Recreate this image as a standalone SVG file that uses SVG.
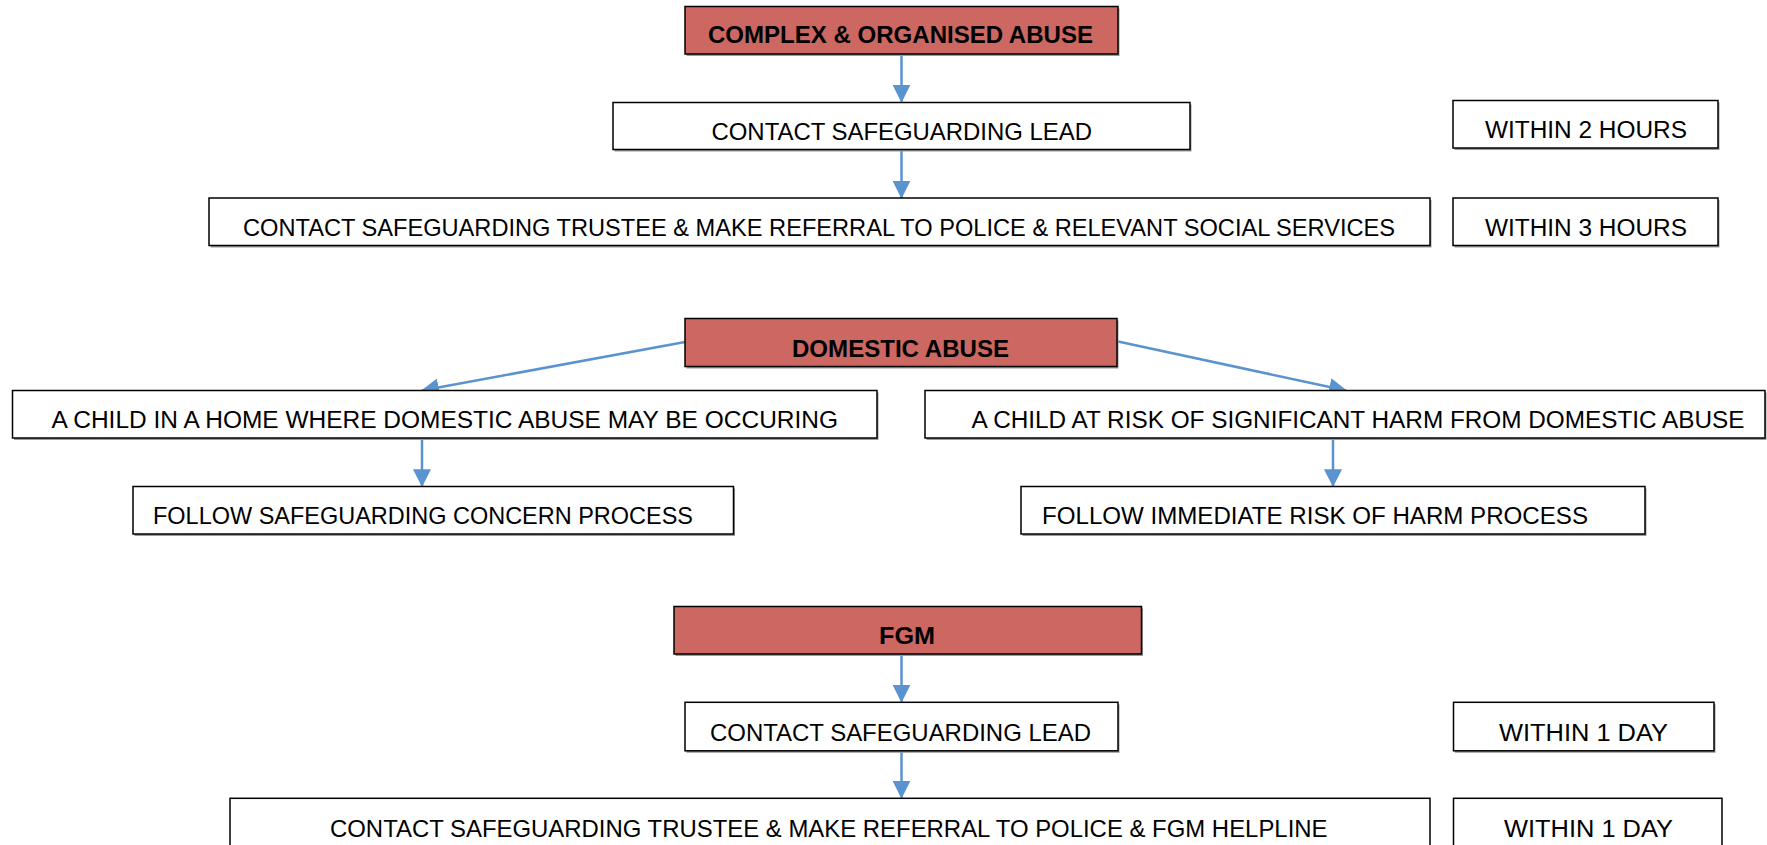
<svg xmlns="http://www.w3.org/2000/svg" width="1767" height="845" viewBox="0 0 1767 845">
<style>
.box{fill:#ffffff;stroke:#000000;stroke-width:1.5}
.hdr{fill:#CD6761;stroke:#000000;stroke-width:1.5}
.sh{fill:#9a9a9a}
.t{font-family:"Liberation Sans",Arial,sans-serif;font-size:24.5px;fill:#000000}
.b{font-family:"Liberation Sans",Arial,sans-serif;font-size:23px;font-weight:bold;fill:#000000}
.c{fill:none;stroke:#5B93CF;stroke-width:2.5}
</style>
<defs>
<marker id="ah" markerUnits="userSpaceOnUse" markerWidth="18" markerHeight="18" viewBox="0 0 16 16" refX="15" refY="8" orient="auto">
<path d="M0,0 L16,8 L0,16 Z" fill="#5B93CF"/>
</marker>
</defs>
<rect width="1767" height="845" fill="#ffffff"/>
<g id="connectors">
<line class="c" x1="901.5" y1="54" x2="901.5" y2="101.5" marker-end="url(#ah)"/>
<line class="c" x1="901.5" y1="150" x2="901.5" y2="197.5" marker-end="url(#ah)"/>
<line class="c" x1="685" y1="342" x2="422" y2="390.5" marker-end="url(#ah)"/>
<line class="c" x1="1118" y1="341.5" x2="1346" y2="390.5" marker-end="url(#ah)"/>
<line class="c" x1="422" y1="438.5" x2="422" y2="486" marker-end="url(#ah)"/>
<line class="c" x1="1333" y1="438.5" x2="1333" y2="486" marker-end="url(#ah)"/>
<line class="c" x1="901.5" y1="654" x2="901.5" y2="701.5" marker-end="url(#ah)"/>
<line class="c" x1="901.5" y1="751" x2="901.5" y2="797.5" marker-end="url(#ah)"/>
</g>
<g id="n-complex">
<rect class="sh" x="686.5" y="8.5" width="433" height="47.5"/>
<rect class="hdr" x="685" y="6.5" width="433" height="47.5"/>
<text class="b" x="708" y="43.3" textLength="385" lengthAdjust="spacingAndGlyphs">COMPLEX &amp; ORGANISED ABUSE</text>
</g>
<g id="n-lead1">
<rect class="sh" x="614.5" y="104.5" width="577" height="47"/>
<rect class="box" x="613" y="102.5" width="577" height="47"/>
<text class="t" x="711.5" y="140" textLength="380.5" lengthAdjust="spacingAndGlyphs">CONTACT SAFEGUARDING LEAD</text>
</g>
<g id="n-within2h">
<rect class="sh" x="1454.5" y="102.5" width="265" height="47.5"/>
<rect class="box" x="1453" y="100.5" width="265" height="47.5"/>
<text class="t" x="1485" y="138" textLength="202" lengthAdjust="spacingAndGlyphs">WITHIN 2 HOURS</text>
</g>
<g id="n-trustee1">
<rect class="sh" x="210.5" y="200" width="1221" height="47.5"/>
<rect class="box" x="209" y="198" width="1221" height="47.5"/>
<text class="t" x="243" y="235.5" textLength="1152" lengthAdjust="spacingAndGlyphs">CONTACT SAFEGUARDING TRUSTEE &amp; MAKE REFERRAL TO POLICE &amp; RELEVANT SOCIAL SERVICES</text>
</g>
<g id="n-within3h">
<rect class="sh" x="1454.5" y="200" width="265" height="47.5"/>
<rect class="box" x="1453" y="198" width="265" height="47.5"/>
<text class="t" x="1485" y="235.5" textLength="202" lengthAdjust="spacingAndGlyphs">WITHIN 3 HOURS</text>
</g>
<g id="n-domestic">
<rect class="sh" x="686.5" y="320.5" width="432" height="48"/>
<rect class="hdr" x="685" y="318.5" width="432" height="48"/>
<text class="b" x="792" y="356.7" textLength="217" lengthAdjust="spacingAndGlyphs">DOMESTIC ABUSE</text>
</g>
<g id="n-home">
<rect class="sh" x="14" y="392.5" width="864.5" height="47.5"/>
<rect class="box" x="12.5" y="390.5" width="864.5" height="47.5"/>
<text class="t" x="51.5" y="428.3" textLength="786.5" lengthAdjust="spacingAndGlyphs">A CHILD IN A HOME WHERE DOMESTIC ABUSE MAY BE OCCURING</text>
</g>
<g id="n-risk">
<rect class="sh" x="926.5" y="392.5" width="840" height="47.5"/>
<rect class="box" x="925" y="390.5" width="840" height="47.5"/>
<text class="t" x="971.5" y="428.3" textLength="773" lengthAdjust="spacingAndGlyphs">A CHILD AT RISK OF SIGNIFICANT HARM FROM DOMESTIC ABUSE</text>
</g>
<g id="n-concern">
<rect class="sh" x="134.5" y="488.5" width="600.5" height="47.5"/>
<rect class="box" x="133" y="486.5" width="600.5" height="47.5"/>
<text class="t" x="153" y="524" textLength="540" lengthAdjust="spacingAndGlyphs">FOLLOW SAFEGUARDING CONCERN PROCESS</text>
</g>
<g id="n-harm">
<rect class="sh" x="1022.5" y="488.5" width="624" height="47.5"/>
<rect class="box" x="1021" y="486.5" width="624" height="47.5"/>
<text class="t" x="1042" y="524" textLength="546" lengthAdjust="spacingAndGlyphs">FOLLOW IMMEDIATE RISK OF HARM PROCESS</text>
</g>
<g id="n-fgm">
<rect class="sh" x="675.5" y="608.5" width="467.5" height="47.5"/>
<rect class="hdr" x="674" y="606.5" width="467.5" height="47.5"/>
<text class="b" x="879" y="644.3" textLength="56" lengthAdjust="spacingAndGlyphs">FGM</text>
</g>
<g id="n-lead2">
<rect class="sh" x="686.5" y="704.3" width="433" height="48.5"/>
<rect class="box" x="685" y="702.3" width="433" height="48.5"/>
<text class="t" x="710" y="740.7" textLength="381" lengthAdjust="spacingAndGlyphs">CONTACT SAFEGUARDING LEAD</text>
</g>
<g id="n-within1d-a">
<rect class="sh" x="1455" y="704.3" width="260.5" height="48.5"/>
<rect class="box" x="1453.5" y="702.3" width="260.5" height="48.5"/>
<text class="t" x="1499" y="740.7" textLength="169" lengthAdjust="spacingAndGlyphs">WITHIN 1 DAY</text>
</g>
<g id="n-trustee2">
<rect class="box" x="230" y="798.3" width="1200" height="60"/>
<text class="t" x="330" y="836.7" textLength="997.5" lengthAdjust="spacingAndGlyphs">CONTACT SAFEGUARDING TRUSTEE &amp; MAKE REFERRAL TO POLICE &amp; FGM HELPLINE</text>
</g>
<g id="n-within1d-b">
<rect class="box" x="1453.5" y="798.3" width="268.5" height="60"/>
<text class="t" x="1504" y="836.7" textLength="169" lengthAdjust="spacingAndGlyphs">WITHIN 1 DAY</text>
</g>
</svg>
